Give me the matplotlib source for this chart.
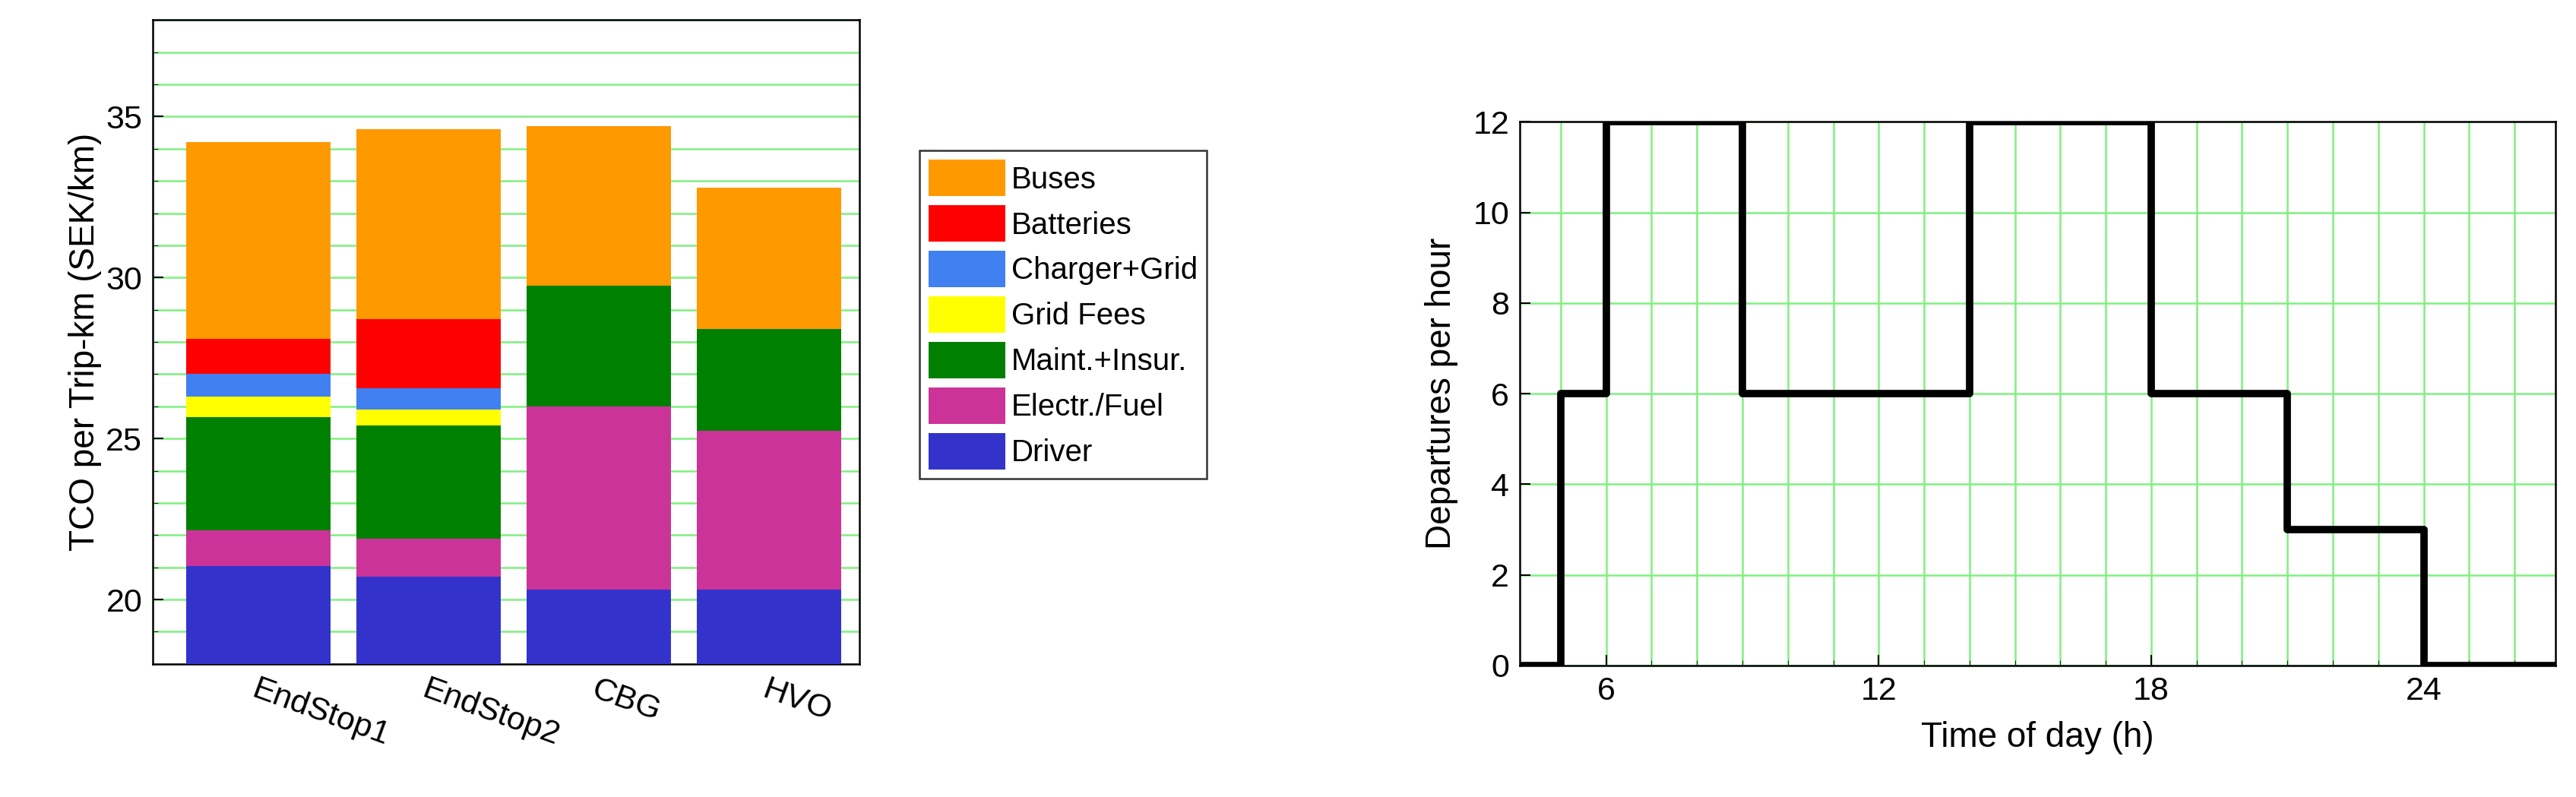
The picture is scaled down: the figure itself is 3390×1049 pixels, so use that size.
import numpy as np
import matplotlib
matplotlib.use("Agg")
from matplotlib import pyplot as plt
from matplotlib.ticker import MultipleLocator

plt.rcParams['font.family'] = ['Liberation Sans', 'DejaVu Sans']

cats = ["EndStop1", "EndStop2", "CBG", "HVO"]
parts = ["Driver", "Electr./Fuel", "Maint.+Insur.", "Grid Fees", "Charger+Grid", "Batteries", "Buses"]
colors = ["#3333cc", "#cc3399", "#008000", "#ffff00", "#4080f0", "#ff0000", "#ff9900"]
# segment heights
driver = [21.03, 20.72, 20.3, 20.3]
fuel = [1.13, 1.18, 5.7, 4.95]
maint = [3.51, 3.5, 3.75, 3.15]
gridfees = [0.63, 0.5, 0, 0]
charger = [0.7, 0.65, 0, 0]
batteries = [1.1, 2.15, 0, 0]
buses = [6.1, 5.9, 4.95, 4.4]
values = [driver, fuel, maint, gridfees, charger, batteries, buses]

hours = [4, 5, 6, 9, 14, 18, 21, 24, 28]
departures = [0, 6, 12, 6, 12, 6, 3, 0, 0]

fig = plt.figure(figsize=(33.9, 10.49), dpi=100)
gcol = "#80f080"

ax = fig.add_axes([0.0593, 0.167, 0.2742, 0.808])
x = np.arange(len(cats))
bottom = np.zeros(len(cats))
handles = []
for name, vals, c in zip(parts, values, colors):
    h = ax.bar(x, vals, 0.85, bottom=bottom, color=c, label=name, zorder=3)
    bottom += np.array(vals)
    handles.append(h)
ax.set_ylim(18, 38)
ax.set_xlim(-0.62, 3.53)
ax.yaxis.set_major_locator(MultipleLocator(5))
ax.yaxis.set_minor_locator(MultipleLocator(1))
ax.grid(True, which='both', axis='y', color=gcol, lw=1.8, zorder=0)
ax.set_xticks(x)
ax.set_xticklabels(cats, rotation=-20, ha='left', rotation_mode='anchor')
ax.tick_params(labelsize=31, direction='in', length=10, width=1.5, pad=10)
ax.tick_params(which='minor', direction='in', length=5)
ax.set_ylabel("TCO per Trip-km (SEK/km)", fontsize=33)
for s in ax.spines.values():
    s.set_linewidth(1.8)

leg = fig.legend(handles[::-1], parts[::-1], loc='upper left',
                 bbox_to_anchor=(0.357, 0.811), fontsize=29, fancybox=False,
                 edgecolor='black', handlelength=2.5, handleheight=1.45,
                 borderpad=0.3, labelspacing=0.3, handletextpad=0.2,
                 borderaxespad=0)
leg.get_frame().set_linewidth(1.8)

ax2 = fig.add_axes([0.590, 0.165, 0.402, 0.682])
ax2.step(hours, departures, where='post', color='black', lw=7, zorder=3)
ax2.set_xlim(4.1, 26.9)
ax2.set_ylim(0, 12)
ax2.xaxis.set_major_locator(MultipleLocator(6))
ax2.xaxis.set_minor_locator(MultipleLocator(1))
ax2.yaxis.set_major_locator(MultipleLocator(2))
ax2.grid(True, which='both', color=gcol, lw=1.8, zorder=0)
ax2.tick_params(labelsize=31, direction='in', length=10, width=1.5, pad=10)
ax2.tick_params(which='minor', direction='in', length=5)
ax2.set_xlabel("Time of day (h)", fontsize=33, labelpad=14)
ax2.set_ylabel("Departures per hour", fontsize=33, labelpad=14)
for s in ax2.spines.values():
    s.set_linewidth(1.8)

fig.savefig("out.png", dpi=100)
